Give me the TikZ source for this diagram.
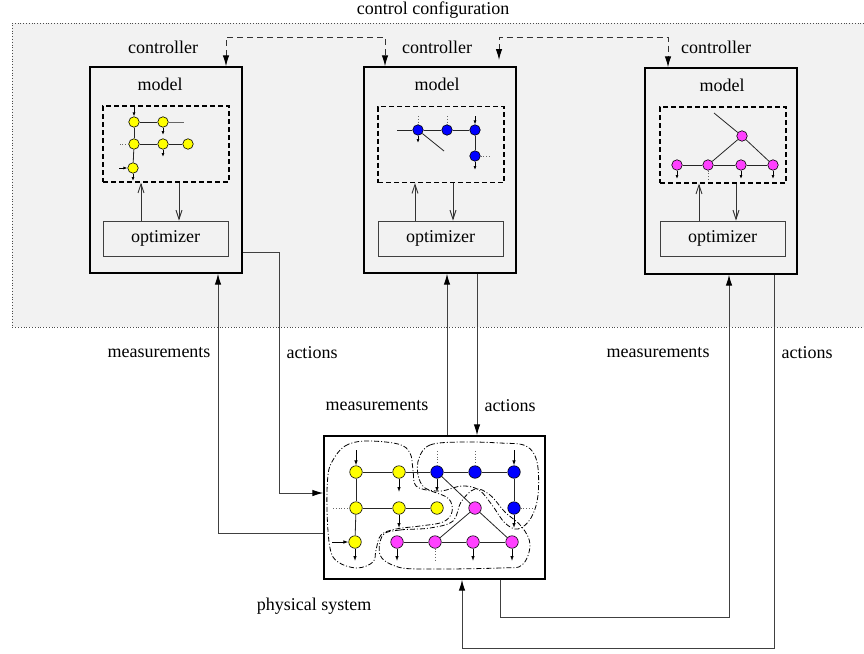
\documentclass[tikz,border=0pt]{standalone}
\usepackage{fontspec}
\setmainfont{Liberation Serif}
\usetikzlibrary{arrows.meta}
\definecolor{ynd}{RGB}{255,255,0}
\definecolor{bnd}{RGB}{0,0,255}
\definecolor{mnd}{RGB}{255,64,255}
\definecolor{bgc}{RGB}{242,242,242}
\begin{document}
\begin{tikzpicture}[x=1pt,y=-1pt,
  lbl/.style={font=\fontsize{18}{20}\selectfont, inner sep=0pt},
  ctrl/.style={draw, line width=1.4pt, minimum width=152pt, minimum height=206pt, inner sep=0pt},
  mdl/.style={draw, line width=1.1pt, dash pattern=on 5pt off 3pt, minimum width=126pt, minimum height=76pt, inner sep=0pt},
  opt/.style={draw=black!75, line width=0.9pt, minimum width=125pt, minimum height=35pt, inner sep=0pt, font=\fontsize{18}{20}\selectfont},
  physbox/.style={draw, line width=1.4pt, minimum width=221pt, minimum height=143pt, inner sep=0pt},
  conn/.style={draw=black!75, line width=1pt, -{Latex[length=11pt,width=6.5pt,black]}},
  dconn/.style={draw=black!80, line width=1pt, dash pattern=on 6pt off 4pt, {Latex[length=11pt,width=6.5pt,black]}-{Latex[length=11pt,width=6.5pt,black]}},
  iarr/.style={draw=black!80, line width=0.9pt, -{Straight Barb[length=9pt,width=6pt]}},
  sarr/.style={line width=0.8pt, -{Latex[length=4pt,width=3pt]}},
  parr/.style={line width=0.8pt, -{Latex[length=5pt,width=3.5pt]}},
  edge/.style={line width=0.8pt, black!85},
  stub/.style={line width=0.8pt, black!60, dotted},
  gn/.style={circle, draw, line width=0.6pt, inner sep=0pt, minimum size=10.5pt},
  pn/.style={circle, draw, line width=0.6pt, inner sep=0pt, minimum size=12.5pt},
  contour/.style={line width=0.8pt, dash pattern=on 5pt off 2pt on 1pt off 2pt}
]
\useasboundingbox (0,0) rectangle (864,653);
% background
\fill[bgc] (12,23) rectangle (864,327);
\draw[dotted, line width=0.8pt, black!70] (864,23) -- (12,23) -- (12,327) -- (864,327);
\node[lbl] (cc) at (433,10) {control configuration};

% controllers
\node[ctrl] (c1) at (166,170) {};
\node[ctrl] (c2) at (440,170) {};
\node[ctrl] (c3) at (721,171) {};
\node[lbl] (cl1) at (163,47) {controller};
\node[lbl] (cl2) at (437,47) {controller};
\node[lbl] (cl3) at (716,47) {controller};
\node[lbl] (ml1) at (160,84) {model};
\node[lbl] (ml2) at (437,84) {model};
\node[lbl] (ml3) at (722,85) {model};
\node[mdl] (m1) at (166,144) {};
\node[mdl] (m2) at (441,144.5) {};
\node[mdl] (m3) at (723,145) {};
\node[opt] (o1) at (165.5,238.5) {optimizer};
\node[opt] (o2) at (440.5,238.5) {optimizer};
\node[opt] (o3) at (722.5,238.5) {optimizer};

% inner arrows
\draw[iarr] (141,0 |- o1.north) -- (141,0 |- m1.south);
\draw[iarr] (179,0 |- m1.south) -- (179,0 |- o1.north);
\draw[iarr] (415,0 |- o2.north) -- (415,0 |- m2.south);
\draw[iarr] (453,0 |- m2.south) -- (453,0 |- o2.north);
\draw[iarr] (699,0 |- o3.north) -- (699,0 |- m3.south);
\draw[iarr] (736,0 |- m3.south) -- (736,0 |- o3.north);

% model graph 1
\node[gn, fill=ynd] (a1) at (134,122) {};
\node[gn, fill=ynd] (a2) at (163,122) {};
\node[gn, fill=ynd] (a3) at (134,144) {};
\node[gn, fill=ynd] (a4) at (163,144) {};
\node[gn, fill=ynd] (a5) at (188,144) {};
\node[gn, fill=ynd] (a6) at (133,168) {};
\draw[edge] (a1) -- (a2); \draw[edge] (a1) -- (a3); \draw[edge] (a3) -- (a6);
\draw[edge] (a3) -- (a4); \draw[edge] (a4) -- (a5);
\coordinate (a2s) at (184,122);
\draw[edge, black!60] (a2) -- (a2s);
\coordinate (a3s) at (120,144);
\draw[stub] (a3) -- (a3s);
\coordinate (a1i) at (134,107);
\draw[sarr] (a1i) -- (a1);
\coordinate (a2o) at (163,135);
\draw[sarr] (a2) -- (a2o);
\coordinate (a4o) at (163,157);
\draw[sarr] (a4) -- (a4o);
\coordinate (a6i) at (119,168);
\draw[sarr] (a6i) -- (a6);
\coordinate (a6o) at (133,181);
\draw[sarr] (a6) -- (a6o);

% model graph 2
\node[gn, fill=bnd] (b1) at (418,130) {};
\node[gn, fill=bnd] (b2) at (447,130) {};
\node[gn, fill=bnd] (b3) at (475,130) {};
\node[gn, fill=bnd] (b4) at (475,156) {};
\draw[edge] (b1) -- (b2); \draw[edge] (b2) -- (b3); \draw[edge] (b3) -- (b4);
\coordinate (b1s) at (397,130);
\draw[edge] (b1s) -- (b1);
\coordinate (b1d) at (444,151);
\draw[edge] (b1) -- (b1d);
\coordinate (b1o) at (418,143);
\draw[sarr] (b1) -- (b1o);
\coordinate (b1t) at (418,116);
\draw[stub] (b1t) -- (b1);
\coordinate (b2t) at (447,116);
\draw[stub] (b2t) -- (b2);
\coordinate (b3i) at (475,116);
\draw[sarr] (b3i) -- (b3);
\coordinate (b4o) at (475,170);
\draw[sarr] (b4) -- (b4o);
\coordinate (b4s) at (490,156);
\draw[stub] (b4) -- (b4s);

% model graph 3
\node[gn, fill=mnd] (d0) at (742,136) {};
\node[gn, fill=mnd] (d1) at (677,165) {};
\node[gn, fill=mnd] (d2) at (708,165) {};
\node[gn, fill=mnd] (d3) at (741,165) {};
\node[gn, fill=mnd] (d4) at (773,165) {};
\coordinate (d0s) at (714,113);
\draw[edge] (d0s) -- (d0);
\draw[edge] (d0) -- (d2); \draw[edge] (d0) -- (d4);
\draw[edge] (d1) -- (d2); \draw[edge] (d2) -- (d3); \draw[edge] (d3) -- (d4);
\coordinate (d1o) at (677,179);
\draw[sarr] (d1) -- (d1o);
\coordinate (d2o) at (708,179);
\draw[stub] (d2) -- (d2o);
\coordinate (d3o) at (741,179);
\draw[sarr] (d3) -- (d3o);
\coordinate (d4o) at (773,179);
\draw[sarr] (d4) -- (d4o);

% physical system
\node[physbox, fill=white] (phys) at (434.5,507.5) {};
\node[lbl] (pl) at (314,606) {physical system};

% contours
\draw[contour] plot[smooth cycle, tension=0.6] coordinates {
  (333,460) (345,446) (365,441) (398,444) (410,453) (413,470) (416,486)
  (434,492) (449,499) (452,512) (443,522) (420,526) (396,529) (381,535)
  (376,550) (373,562) (357,568) (338,562) (330,548) (327,510) (328,475)};
\draw[contour] plot[smooth cycle, tension=0.6] coordinates {
  (419,458) (430,445) (460,442) (500,443) (526,446) (537,462) (538,495)
  (531,518) (518,529) (505,523) (492,505) (479,490) (462,486) (441,491)
  (425,488) (418,475)};
\draw[contour] plot[smooth cycle, tension=0.6] coordinates {
  (383,535) (400,530) (430,528) (453,521) (461,502) (475,489) (490,495)
  (505,512) (522,527) (530,545) (522,565) (500,568) (420,569) (395,566)
  (380,555)};

% physical nodes
\node[pn, fill=ynd] (p11) at (356,472) {};
\node[pn, fill=ynd] (p12) at (399,472) {};
\node[pn, fill=bnd] (p13) at (437,472) {};
\node[pn, fill=bnd] (p14) at (475,472) {};
\node[pn, fill=bnd] (p15) at (514,472) {};
\node[pn, fill=ynd] (p21) at (356,508) {};
\node[pn, fill=ynd] (p22) at (399,508) {};
\node[pn, fill=ynd] (p23) at (437,508) {};
\node[pn, fill=mnd] (p24) at (475,508) {};
\node[pn, fill=bnd] (p25) at (514,508) {};
\node[pn, fill=ynd] (p31) at (355,542) {};
\node[pn, fill=mnd] (p32) at (397,542) {};
\node[pn, fill=mnd] (p33) at (435,542) {};
\node[pn, fill=mnd] (p34) at (473,542) {};
\node[pn, fill=mnd] (p35) at (512,542) {};
\draw[edge] (p11) -- (p12); \draw[edge] (p12) -- (p13); \draw[edge] (p13) -- (p14); \draw[edge] (p14) -- (p15);
\draw[edge] (p11) -- (p21); \draw[edge] (p21) -- (p31);
\draw[edge] (p21) -- (p22); \draw[edge] (p22) -- (p23);
\draw[edge] (p15) -- (p25);
\draw[edge] (p13) -- (p24); \draw[edge] (p24) -- (p33); \draw[edge] (p24) -- (p35);
\draw[edge] (p32) -- (p33); \draw[edge] (p33) -- (p34); \draw[edge] (p34) -- (p35);
\coordinate (p11i) at (356,450);
\draw[parr] (p11i) -- (p11);
\coordinate (p15i) at (514,450);
\draw[parr] (p15i) -- (p15);
\coordinate (p13t) at (437,451);
\draw[stub] (p13t) -- (p13);
\coordinate (p14t) at (475,451);
\draw[stub] (p14t) -- (p14);
\coordinate (p12o) at (399,492);
\draw[parr] (p12) -- (p12o);
\coordinate (p13o) at (437,492);
\draw[parr] (p13) -- (p13o);
\coordinate (p22o) at (399,528);
\draw[parr] (p22) -- (p22o);
\coordinate (p25o) at (514,528);
\draw[parr] (p25) -- (p25o);
\coordinate (p31o) at (355,561);
\draw[parr] (p31) -- (p31o);
\coordinate (p32o) at (397,561);
\draw[parr] (p32) -- (p32o);
\coordinate (p33o) at (435,561);
\draw[stub] (p33) -- (p33o);
\coordinate (p34o) at (473,561);
\draw[parr] (p34) -- (p34o);
\coordinate (p35o) at (512,561);
\draw[parr] (p35) -- (p35o);
\coordinate (p21s) at (333,508);
\draw[stub] (p21s) -- (p21);
\coordinate (p25s) at (535,508);
\draw[stub] (p25) -- (p25s);
\coordinate (p31i) at (332,542);
\draw[parr] (p31i) -- (p31);

% top dashed links
\draw[dconn] (226,0 |- c1.north) -- (226,37) -- (385,37) -- (385,0 |- c2.north);
\coordinate (t2) at (499,60);
\draw[dconn] (t2) -- (499,37) -- (668,37) -- (668,0 |- c3.north);

% connectors
\draw[conn] (c1.east |- 0,252) -- (279,252) -- (279,493) -- (phys.west |- 0,493);
\draw[conn] (phys.west |- 0,533) -- (218,533) -- (218,0 |- c1.south);
\draw[conn] (447,0 |- phys.north) -- (447,0 |- c2.south);
\draw[conn] (477,0 |- c2.south) -- (477,0 |- phys.north);
\draw[conn] (500,0 |- phys.south) -- (500,617) -- (729,617) -- (729,0 |- c3.south);
\draw[conn] (774,0 |- c3.south) -- (774,648) -- (462,648) -- (462,0 |- phys.south);

% connector labels
\node[lbl] (lm1) at (159,353) {measurements};
\node[lbl] (la1) at (312,353) {actions};
\node[lbl] (lm2) at (377,406) {measurements};
\node[lbl] (la2) at (510,406) {actions};
\node[lbl] (lm3) at (658,353) {measurements};
\node[lbl] (la3) at (807,353) {actions};
\end{tikzpicture}
\end{document}
